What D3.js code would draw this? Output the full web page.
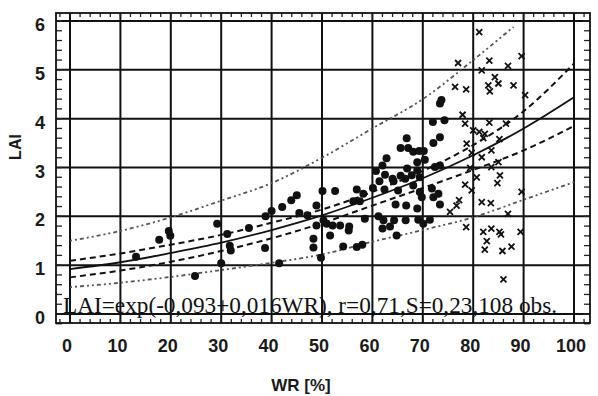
<!DOCTYPE html>
<html>
<head>
<meta charset="utf-8">
<script src="https://cdn.jsdelivr.net/npm/d3@7"></script>
<style>
  body { margin: 0; background: #fff; }
  svg { display: block; }
  .tick-label { font-family: "Liberation Sans", Arial, sans-serif; font-size: 18px; font-weight: bold; fill: #1a1a1a; }
</style>
</head>
<body>
<div id="chart"></div>
<script>
const dotWR  = [13.1,17.7,19.6,19.9,24.8,29.2,30.0,31.2,31.7,31.9,35.5,38.7,38.8,40.0,41.5,42.1,43.9,45.0,45.5,47.1,
  48.9,48.9,48.3,48.3,49.8,50.1,50.3,50.9,51.6,52.1,52.6,53.6,54.2,55.3,55.4,56.2,56.9,56.9,57.5,58.0,
  58.2,58.5,60.1,60.7,61.2,61.4,62.0,62.0,62.2,62.4,62.5,62.8,63.5,64.0,64.2,64.3,64.6,64.8,65.1,65.6,
  65.6,66.5,66.6,66.7,66.8,66.9,67.1,67.8,68.1,68.1,68.9,68.9,68.9,69.1,69.3,69.4,69.4,69.8,70.1,70.2,
  70.4,71.4,71.8,72.0,72.1,72.1,72.4,73.1,73.4,73.4,73.4,73.4,73.7,74.3];
const dotLAI = [1.17,1.52,1.70,1.60,0.78,1.85,1.04,1.64,1.40,1.30,1.76,1.35,2.00,2.11,1.04,2.19,2.33,2.43,2.07,2.02,
  2.22,1.81,1.54,1.36,1.15,2.52,1.92,1.85,1.61,1.81,2.52,1.81,1.38,1.71,1.79,2.31,2.55,1.37,2.31,1.42,
  2.46,1.95,2.58,2.93,2.00,2.72,3.04,1.75,1.92,2.55,2.85,3.19,1.79,2.77,2.72,1.92,2.24,1.61,2.53,3.40,
  2.83,2.77,1.92,2.22,3.60,2.98,3.40,2.84,3.32,2.63,3.11,2.94,2.16,1.93,3.34,2.80,2.50,2.39,1.85,3.34,
  3.16,1.93,2.57,3.93,3.50,2.39,3.01,2.46,4.31,3.62,3.04,2.24,4.38,3.97];

const crossWR  = [81.2,77.0,83.2,81.7,86.9,89.6,84.3,85.0,83.0,83.3,88.0,76.4,78.6,90.3,77.9,78.4,83.2,86.5,80.0,81.2,
  82.3,82.0,85.2,78.7,83.6,81.7,79.7,85.0,79.4,80.7,83.6,85.3,84.8,78.4,79.7,89.6,77.2,76.7,75.4,81.7,
  83.5,86.9,78.6,82.0,83.6,85.2,85.5,89.4,82.7,82.3,85.8,87.6,86.0];
const crossLAI = [5.77,5.14,5.19,4.99,5.08,5.28,4.85,4.72,4.68,4.56,4.68,4.65,4.60,4.48,4.08,3.90,3.92,3.90,3.76,3.73,
  3.69,3.60,3.58,3.49,3.35,3.21,3.30,3.11,2.99,2.80,3.01,2.84,2.68,2.65,2.53,2.50,2.33,2.22,2.09,2.29,
  2.27,2.05,1.78,1.68,1.75,1.68,1.63,1.68,1.49,1.32,1.29,1.38,0.71];

// fitted curve and bands at every 10 % WR
const curveWR     = [0,10,20,30,40,50,60,70,80,90,100];
const fitLAI      = [0.92,1.06,1.25,1.46,1.72,2.02,2.38,2.78,3.25,3.80,4.44];
const meanUpLAI   = [1.09,1.24,1.42,1.62,1.87,2.14,2.50,2.93,3.46,4.15,5.13];
const meanLoLAI   = [0.75,0.89,1.07,1.29,1.55,1.86,2.22,2.58,2.95,3.35,3.85];
const predUpWR    = [0,10,20,30,40,50,60,70,80,88];
const predUpLAI   = [1.50,1.70,1.98,2.32,2.68,3.20,3.80,4.40,5.20,5.88];
const predLoLAI   = [0.55,0.64,0.76,0.90,1.05,1.22,1.48,1.72,1.98,2.34,2.70];

const xTicks = [0,10,20,30,40,50,60,70,80,90,100];
const yTicks = [0,1,2,3,4,5,6];
const equation = "LAI=exp(-0,093+0,016WR), r=0,71,S=0,23,108 obs.";

const W = 598, H = 396;
const frame = { left: 56, right: 590, top: 13, bottom: 323 };

const svg = d3.select('#chart').append('svg')
  .attr('width', W)
  .attr('height', H);

const x = d3.scaleLinear().domain([0, 100]).range([70, 574]);
const y = d3.scaleLinear().domain([0, 6]).range([314, 21]);

// grid
svg.append('g')
  .selectAll('line.vg')
  .data(xTicks)
  .enter().append('line')
  .attr('x1', d => x(d)).attr('x2', d => x(d))
  .attr('y1', frame.top).attr('y2', frame.bottom)
  .attr('stroke', '#111').attr('stroke-width', 2);

svg.append('g')
  .selectAll('line.hg')
  .data(yTicks)
  .enter().append('line')
  .attr('x1', frame.left).attr('x2', frame.right)
  .attr('y1', d => y(d)).attr('y2', d => y(d))
  .attr('stroke', '#111').attr('stroke-width', 2);

// minor ticks inside the frame
const minorY = d3.range(-0.2, 6.15, 0.2);
const minorX = d3.range(-2, 103, 2);
const ticks = svg.append('g').attr('stroke', '#222').attr('stroke-width', 1.3);
minorY.forEach(v => {
  ticks.append('line').attr('x1', frame.left).attr('x2', frame.left + 6).attr('y1', y(v)).attr('y2', y(v));
  ticks.append('line').attr('x1', frame.right).attr('x2', frame.right - 6).attr('y1', y(v)).attr('y2', y(v));
});
minorX.forEach(v => {
  ticks.append('line').attr('x1', x(v)).attr('x2', x(v)).attr('y1', frame.top).attr('y2', frame.top + 4);
  ticks.append('line').attr('x1', x(v)).attr('x2', x(v)).attr('y1', frame.bottom).attr('y2', frame.bottom - 4);
});

// frame
svg.append('rect')
  .attr('x', frame.left).attr('y', frame.top)
  .attr('width', frame.right - frame.left).attr('height', frame.bottom - frame.top)
  .attr('fill', 'none').attr('stroke', '#111').attr('stroke-width', 1.8);

// curves
const line = d3.line().curve(d3.curveMonotoneX);
function drawCurve(xs, ys, dash, width, color) {
  svg.append('path')
    .datum(xs.map((d, i) => [x(d), y(ys[i])]))
    .attr('fill', 'none')
    .attr('stroke', color)
    .attr('stroke-width', width)
    .attr('stroke-dasharray', dash)
    .attr('d', line);
}
drawCurve(predUpWR, predUpLAI, '2,3,2,3,4,3', 1.8, '#555');
drawCurve(curveWR, predLoLAI, '2,3,2,3,4,3', 1.8, '#555');
drawCurve(curveWR, meanUpLAI, '6,4', 2, '#111');
drawCurve(curveWR, meanLoLAI, '6,4', 2, '#111');
drawCurve(curveWR, fitLAI, null, 1.8, '#111');

// points
svg.append('g')
  .selectAll('circle')
  .data(dotWR)
  .enter().append('circle')
  .attr('cx', d => x(d))
  .attr('cy', (d, i) => y(dotLAI[i]))
  .attr('r', 4)
  .attr('fill', '#111');

const cs = 3;
svg.append('g')
  .selectAll('path')
  .data(crossWR)
  .enter().append('path')
  .attr('d', (d, i) => {
    const cx = x(d), cy = y(crossLAI[i]);
    return `M${cx - cs},${cy - cs}L${cx + cs},${cy + cs}M${cx - cs},${cy + cs}L${cx + cs},${cy - cs}`;
  })
  .attr('stroke', '#111')
  .attr('stroke-width', 1.8);

// tick labels
svg.append('g')
  .selectAll('text')
  .data(xTicks)
  .enter().append('text')
  .attr('class', 'tick-label')
  .attr('x', d => x(d) - 3)
  .attr('y', 352)
  .attr('text-anchor', 'middle')
  .text(d => d);

svg.append('g')
  .selectAll('text')
  .data(yTicks)
  .enter().append('text')
  .attr('class', 'tick-label')
  .attr('x', 45)
  .attr('y', d => y(d) + 10)
  .attr('text-anchor', 'end')
  .text(d => d);

// axis titles
svg.append('text')
  .attr('class', 'tick-label')
  .attr('x', 301).attr('y', 391)
  .attr('text-anchor', 'middle')
  .style('font-size', '17px')
  .text('WR [%]');

svg.append('text')
  .attr('class', 'tick-label')
  .attr('transform', 'translate(21,147) rotate(-90)')
  .attr('text-anchor', 'middle')
  .style('font-size', '16px')
  .text('LAI');

// regression equation
svg.append('text')
  .attr('x', 63).attr('y', 313)
  .attr('textLength', 494)
  .attr('lengthAdjust', 'spacingAndGlyphs')
  .style('font-family', '"Liberation Serif", "Times New Roman", serif')
  .style('font-size', '24px')
  .style('fill', '#111')
  .text(equation);
</script>
</body>
</html>
